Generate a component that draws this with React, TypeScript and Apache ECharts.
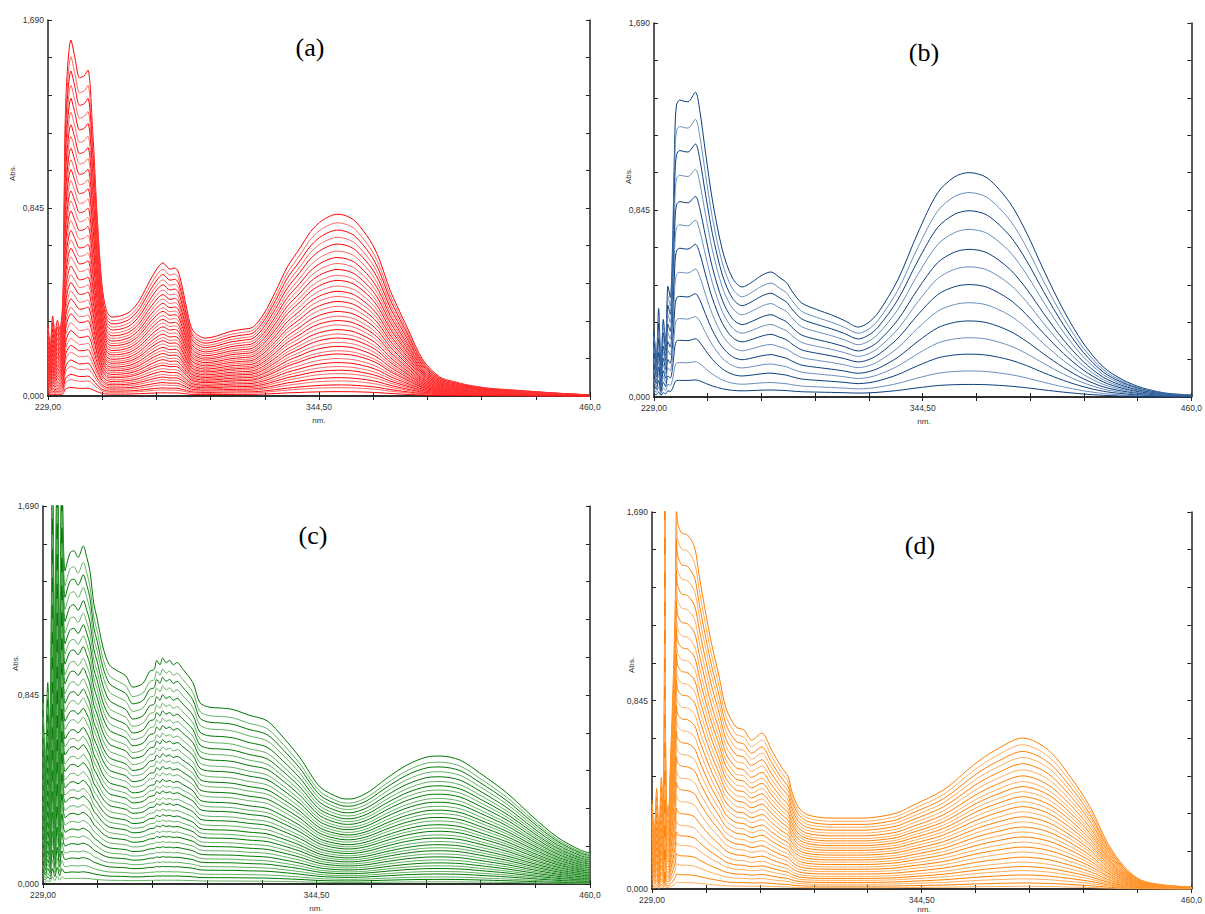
import React, { useEffect, useRef } from "react";
import * as echarts from "echarts";

// ---------- Data (wavelength nm, absorbance of the highest curve) ----------
const aNm = [229, 230, 231, 232, 233, 234, 235.4, 236.5, 238.8, 240.5, 242.5, 244.5, 246, 248, 250, 252, 254, 256.3, 260, 264, 268, 272.5, 276, 278, 281, 283, 284.4, 286, 288, 290, 292, 296, 301, 306.6, 312, 316.4, 321, 326, 331, 336.4, 341, 346, 352.2, 356, 360, 366.2, 370, 374.8, 378, 382, 388.8, 396, 402, 407.6, 417, 427.2, 445.9, 460];
const aAbs = [0.32, 0.22, 0.36, 0.28, 0.34, 0.3, 0.45, 1.3, 1.6, 1.52, 1.43, 1.44, 1.465, 1.2, 0.8, 0.5, 0.38, 0.355, 0.36, 0.38, 0.43, 0.52, 0.58, 0.598, 0.57, 0.575, 0.562, 0.5, 0.4, 0.31, 0.28, 0.26, 0.27, 0.29, 0.3, 0.31, 0.37, 0.47, 0.58, 0.665, 0.74, 0.79, 0.817, 0.81, 0.785, 0.7, 0.62, 0.476, 0.4, 0.31, 0.162, 0.085, 0.065, 0.05, 0.035, 0.027, 0.013, 0.005];
const aLevels = [1, 0.953, 0.913, 0.873, 0.836, 0.797, 0.762, 0.729, 0.696, 0.664, 0.636, 0.605, 0.576, 0.548, 0.52, 0.493, 0.465, 0.439, 0.415, 0.391, 0.365, 0.341, 0.319, 0.295, 0.273, 0.249, 0.231, 0.206, 0.184, 0.162, 0.142, 0.123, 0.101, 0.083, 0.061, 0.046, 0.024];

const bNm = [229, 230, 231, 232, 233, 234, 235, 236, 237, 238, 238.7, 240.1, 242, 243.6, 246.8, 248.6, 251.2, 254.1, 258.4, 262.7, 266.9, 271.2, 275.5, 279.3, 282.7, 286.1, 288.2, 292.5, 299, 305.3, 311, 316.8, 321, 325.3, 333.8, 342.4, 350.9, 358.1, 364.4, 372.2, 382, 389.2, 396.5, 405, 413.5, 422.1, 430.6, 439.1, 448.9, 460];
const bAbs = [0.3, 0.18, 0.4, 0.12, 0.35, 0.25, 0.5, 0.45, 0.7, 1.2, 1.32, 1.342, 1.336, 1.334, 1.377, 1.3, 1.1, 0.89, 0.664, 0.538, 0.497, 0.52, 0.551, 0.565, 0.542, 0.515, 0.48, 0.425, 0.395, 0.371, 0.345, 0.316, 0.335, 0.38, 0.529, 0.741, 0.922, 0.994, 1.014, 0.99, 0.877, 0.741, 0.574, 0.393, 0.244, 0.136, 0.077, 0.041, 0.018, 0.009];
const bLevels = [1, 0.911, 0.83, 0.747, 0.658, 0.58, 0.501, 0.42, 0.339, 0.264, 0.191, 0.116, 0.056];

const cNm = [229, 230, 231, 232, 233, 234, 235, 236, 237, 238.3, 240.4, 242, 243.8, 246, 247.5, 248.8, 250.5, 251.8, 254.3, 257, 260.3, 264, 267, 271.2, 274, 276, 277, 278.4, 279.5, 281, 282.5, 284, 285.6, 288.1, 292.3, 295.3, 299.5, 304, 309.2, 316, 323.6, 330.4, 337.5, 346, 354.4, 358.6, 365.8, 374.3, 382.7, 391.2, 396.7, 405.1, 413.5, 424.9, 435.9, 446.1, 455.8, 460];
const cAbs = [0.85, 0.5, 0.9, 0.6, 1.95, 0.9, 2.1, 1.0, 1.9, 1.4, 1.48, 1.49, 1.46, 1.511, 1.46, 1.4, 1.25, 1.19, 1.06, 0.98, 0.954, 0.93, 0.88, 0.897, 0.95, 0.96, 1.0, 0.98, 1.01, 0.99, 1.0, 0.98, 0.99, 0.96, 0.9, 0.81, 0.79, 0.787, 0.78, 0.755, 0.73, 0.656, 0.565, 0.434, 0.385, 0.38, 0.407, 0.474, 0.532, 0.568, 0.572, 0.554, 0.496, 0.407, 0.3, 0.21, 0.152, 0.139];
const cLevels = [1, 0.952, 0.915, 0.877, 0.838, 0.801, 0.767, 0.734, 0.702, 0.668, 0.639, 0.607, 0.577, 0.55, 0.52, 0.493, 0.463, 0.437, 0.412, 0.383, 0.359, 0.332, 0.307, 0.283, 0.26, 0.235, 0.212, 0.188, 0.165, 0.142, 0.121, 0.098, 0.078, 0.055, 0.036, 0.017];

const dNm = [229, 230, 231, 232, 233, 234, 234.5, 235, 236, 237, 238, 239, 239.5, 240, 241.7, 244.2, 247.2, 249.3, 252.3, 254.8, 257.8, 260.7, 265, 268.3, 271.7, 276, 280.2, 284.4, 287.4, 288.7, 291.6, 295.8, 305.6, 319.9, 325.5, 333.9, 339.4, 353.8, 367.8, 376.2, 387.7, 398.7, 410.1, 417.3, 424.1, 431.3, 438.4, 448.2, 460];
const dAbs = [0.4, 0.25, 0.45, 0.2, 0.5, 0.3, 1.9, 0.4, 0.35, 0.6, 0.9, 1.3, 1.72, 1.641, 1.596, 1.587, 1.533, 1.399, 1.219, 1.085, 0.95, 0.81, 0.726, 0.713, 0.668, 0.699, 0.623, 0.547, 0.502, 0.444, 0.368, 0.332, 0.318, 0.318, 0.323, 0.341, 0.368, 0.444, 0.565, 0.623, 0.677, 0.623, 0.475, 0.354, 0.206, 0.099, 0.04, 0.018, 0.009];
const dLevels = [1, 0.955, 0.911, 0.871, 0.829, 0.789, 0.749, 0.711, 0.678, 0.644, 0.611, 0.578, 0.545, 0.511, 0.478, 0.445, 0.411, 0.378, 0.345, 0.311, 0.278, 0.245, 0.211, 0.178, 0.149, 0.122, 0.093, 0.067, 0.04, 0.018];

const xTicks = [229, 252.1, 275.2, 298.3, 321.4, 344.5, 367.6, 390.7, 413.8, 436.9, 460];
const xLabelValues = [229, 344.5, 460];
const xLabels = ["229,00", "344,50", "460,0"];
const yTicks = [0, 0.169, 0.338, 0.507, 0.676, 0.845, 1.014, 1.183, 1.352, 1.521, 1.69];
const yLabelValues = [0, 0.845, 1.69];
const yLabels = ["0,000", "0,845", "1,690"];
const titles = ["(a)", "(b)", "(c)", "(d)"];

const panels = [
  { nm: aNm, abs: aAbs, levels: aLevels, colors: ["#ff0000", "#ff6464"], grid: { left: 48, top: 20, width: 542, height: 376 }, title: [310, 47], absPos: [12, 173], nmPos: [319, 420] },
  { nm: bNm, abs: bAbs, levels: bLevels, colors: ["#093e7e", "#6a8fbd"], grid: { left: 654, top: 23, width: 542, height: 374 }, title: [924, 52], absPos: [628, 176], nmPos: [924, 421] },
  { nm: cNm, abs: cAbs, levels: cLevels, colors: ["#007800", "#63b163"], grid: { left: 43, top: 506, width: 547, height: 378 }, title: [313, 535], absPos: [15, 663], nmPos: [316, 908] },
  { nm: dNm, abs: dAbs, levels: dLevels, colors: ["#ff7f00", "#ffad5c"], grid: { left: 652, top: 512, width: 546, height: 377 }, title: [920, 545], absPos: [631, 665], nmPos: [924, 909] },
];

const axisLineStyle = { color: "#222", width: 1.5 };
const labelText = { fontSize: 8.5, color: "#333", fontFamily: "Liberation Sans, Arial, sans-serif" };

function buildOption() {
  const grid: any[] = [];
  const xAxis: any[] = [];
  const yAxis: any[] = [];
  const series: any[] = [];
  const graphic: any[] = [];

  panels.forEach((p, gi) => {
    grid.push({ ...p.grid, containLabel: false });
    const xBase = { gridIndex: gi, type: "value", min: 229, max: 460, splitLine: { show: false }, axisLine: { show: true, lineStyle: axisLineStyle }, axisTick: { show: true, inside: true, length: 4, customValues: xTicks, lineStyle: { color: "#222" } } };
    xAxis.push({
      ...xBase,
      position: "bottom",
      axisLabel: {
        show: true, customValues: xLabelValues, margin: 6, ...labelText,
        formatter: (v: number) => { const k = xLabelValues.findIndex((t) => Math.abs(t - v) < 0.01); return k >= 0 ? xLabels[k] : ""; },
      },
    });
    xAxis.push({ ...xBase, position: "top", axisLabel: { show: false } });
    const yBase = { gridIndex: gi, type: "value", min: 0, max: 1.69, splitLine: { show: false }, axisLine: { show: true, lineStyle: axisLineStyle }, axisTick: { show: true, inside: true, length: 4, customValues: yTicks, lineStyle: { color: "#222" } } };
    yAxis.push({
      ...yBase,
      position: "left",
      axisLabel: {
        show: true, customValues: yLabelValues, margin: 4, ...labelText,
        formatter: (v: number) => { const k = yLabelValues.findIndex((t) => Math.abs(t - v) < 0.001); return k >= 0 ? yLabels[k] : ""; },
      },
    });
    yAxis.push({ ...yBase, position: "right", axisLabel: { show: false } });

    p.levels.forEach((f, li) => {
      series.push({
        type: "line",
        xAxisIndex: gi * 2,
        yAxisIndex: gi * 2,
        data: p.nm.map((x, i) => [x, f * p.abs[i]]),
        symbol: "none",
        silent: true,
        clip: true,
        smooth: 0.3,
        lineStyle: { width: 1, color: p.colors[li % 2] },
      });
    });

    graphic.push({
      type: "text", x: p.title[0], y: p.title[1],
      style: { text: titles[gi], font: "26px 'Liberation Serif', 'Times New Roman', serif", fill: "#000", align: "center", verticalAlign: "middle" },
    });
    graphic.push({
      type: "text", x: p.absPos[0], y: p.absPos[1], rotation: Math.PI / 2,
      style: { text: "Abs.", font: "8px 'Liberation Sans', Arial, sans-serif", fill: "#333", align: "center", verticalAlign: "middle" },
    });
    graphic.push({
      type: "text", x: p.nmPos[0], y: p.nmPos[1],
      style: { text: "nm.", font: "8px 'Liberation Sans', Arial, sans-serif", fill: "#333", align: "center", verticalAlign: "middle" },
    });
  });

  return { animation: false, backgroundColor: "#fff", grid, xAxis, yAxis, series, graphic };
}

export default function App() {
  const ref = useRef<HTMLDivElement>(null);
  useEffect(() => {
    if (!ref.current) return;
    const chart = echarts.init(ref.current, null, { renderer: "svg" });
    chart.setOption(buildOption() as any);
    return () => chart.dispose();
  }, []);
  return <div ref={ref} style={{ position: "absolute", left: 0, top: 0, width: 1205, height: 914, background: "#fff" }} />;
}
